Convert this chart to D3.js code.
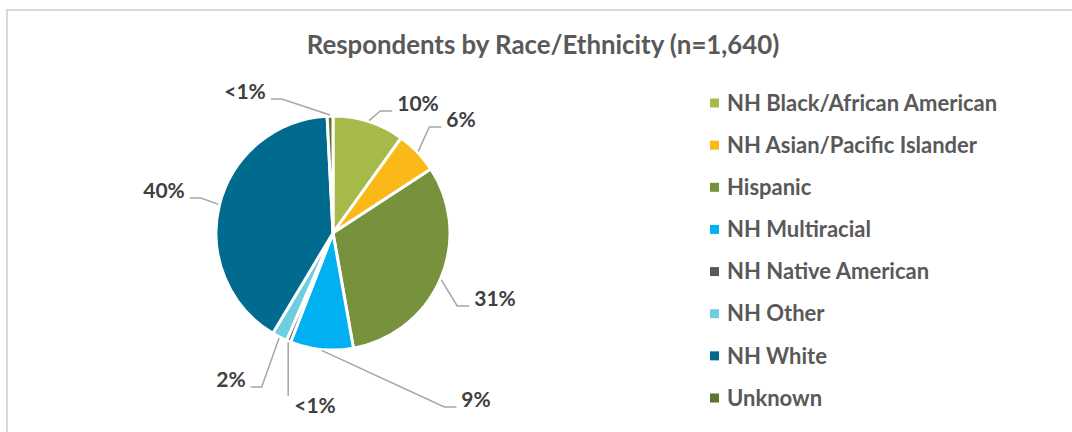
<!DOCTYPE html>
<html>
<head>
<meta charset="utf-8">
<script src="https://cdn.jsdelivr.net/npm/d3@7"></script>
<style>
  html, body { margin: 0; padding: 0; background: #fff; }
  svg { display: block; }
  text { font-family: Lato, "Open Sans", sans-serif; font-weight: 700; }
</style>
</head>
<body>
<svg id="chart" width="1072" height="432"></svg>
<script>
// ---- data ----
const title = "Respondents by Race/Ethnicity (n=1,640)";
const categories = ["NH Black/African American", "NH Asian/Pacific Islander", "Hispanic", "NH Multiracial", "NH Native American", "NH Other", "NH White", "Unknown"];
const shares = [9.9, 5.9, 31.4, 8.7, 0.6, 2.1, 40.6, 0.8];
const labels = ["10%", "6%", "31%", "9%", "<1%", "2%", "40%", "<1%"];
const colors = ["#A5BA48", "#FBB917", "#77923C", "#00B0F0", "#595959", "#6ECDDF", "#006A8F", "#5E732C"];

// ---- layout (label placement relative to pie centre, as in the original) ----
const labelOffsets = [[85, -129], [128, -113], [162, 66], [143, 167], [-18, 173], [-102, 147], [-169, -42], [-88, -141]];
const labelSide = ["right", "right", "right", "right", "below", "left", "left", "left"];

const svg = d3.select("#chart");
const W = 1072, H = 432;

// frame
svg.append("rect").attr("x", 7).attr("y", 10).attr("width", W + 20).attr("height", H + 20)
  .attr("fill", "#fff").attr("stroke", "#D9D9D9").attr("stroke-width", 2);

// title
svg.append("text").attr("x", 543).attr("y", 54).attr("text-anchor", "middle")
  .attr("fill", "#595959").attr("font-size", 25.8).text(title);

const cx = 333, cy = 233, R = 117;
const g = svg.append("g").attr("transform", `translate(${cx},${cy})`);

const pie = d3.pie().sort(null).value(d => d);
const arcs = pie(shares);
const arc = d3.arc().innerRadius(0).outerRadius(R);
const edge = d3.arc().innerRadius(R + 1).outerRadius(R + 1);

g.selectAll("path.slice").data(arcs).join("path")
  .attr("class", "slice")
  .attr("d", arc)
  .attr("fill", (d, i) => colors[i])
  .attr("stroke", "#fff").attr("stroke-width", 3).attr("stroke-linejoin", "round");

// labels + leader lines
const labelFont = 21;
arcs.forEach((a, i) => {
  const [lx, ly] = labelOffsets[i];
  const t = g.append("text").attr("x", lx).attr("y", ly).attr("text-anchor", "middle")
    .attr("dy", "0.35em").attr("fill", "#404040").attr("font-size", labelFont).text(labels[i]);
  const w = t.node().getComputedTextLength();
  const start = edge.centroid(a);
  let pts;
  if (labelSide[i] === "right") {
    const end = [lx - w / 2 - 5, ly + 7];
    pts = [start, [end[0] - 12, end[1]], end];
  } else if (labelSide[i] === "left") {
    const end = [lx + w / 2 + 5, ly + 7];
    pts = [start, [end[0] + 11, end[1]], end];
  } else {
    const end = [start[0], ly - 10];
    pts = [start, end];
  }
  g.append("path").attr("d", d3.line()(pts)).attr("fill", "none")
    .attr("stroke", "#A6A6A6").attr("stroke-width", 1.5);
});

// legend
const legY = d3.scalePoint().domain(categories).range([103, 398]);
const leg = svg.append("g");
categories.forEach((c, i) => {
  const y = legY(c);
  leg.append("rect").attr("x", 710).attr("y", y - 4.5).attr("width", 9).attr("height", 9).attr("fill", colors[i]);
  leg.append("text").attr("x", 727).attr("y", y).attr("dy", "0.35em")
    .attr("fill", "#595959").attr("font-size", 22).text(c);
});
</script>
</body>
</html>
